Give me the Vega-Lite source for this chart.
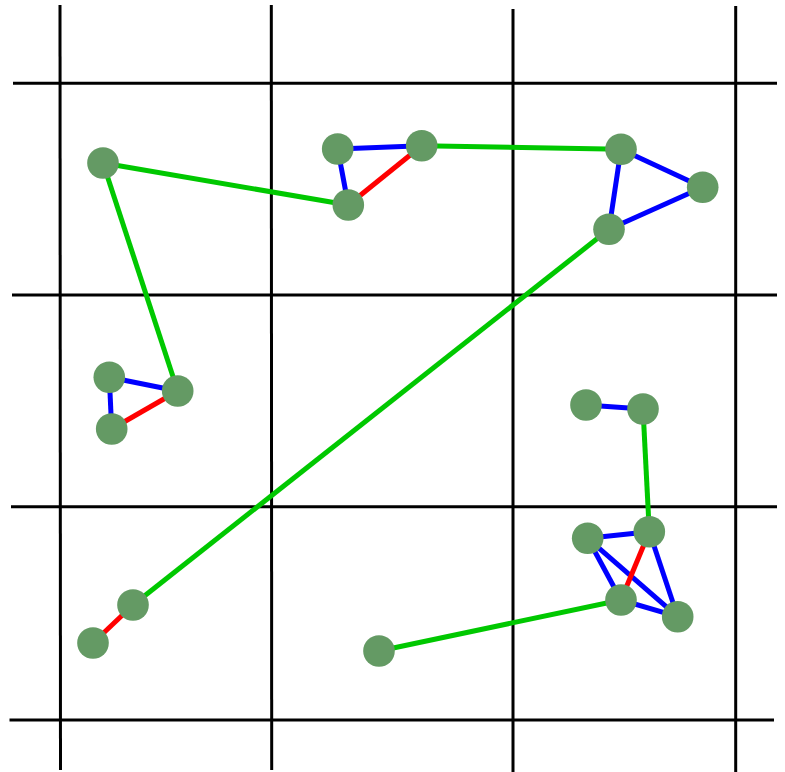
{
  "$schema": "https://vega.github.io/schema/vega-lite/v6.json",
  "width": 785,
  "height": 772,
  "autosize": {"type": "none"},
  "padding": 0,
  "background": "white",
  "config": {"view": {"stroke": null}},
  "datasets": {
    "grid": [
      {"x": 60, "y": 5, "x2": 60.5, "y2": 770},
      {"x": 271.3, "y": 5, "x2": 271.7, "y2": 770},
      {"x": 513, "y": 9, "x2": 513, "y2": 772},
      {"x": 735.7, "y": 6, "x2": 735.7, "y2": 772},
      {"x": 13, "y": 83.3, "x2": 777, "y2": 83.3},
      {"x": 12, "y": 295, "x2": 777, "y2": 295},
      {"x": 11, "y": 506.7, "x2": 777, "y2": 506.7},
      {"x": 9.5, "y": 720, "x2": 774, "y2": 720}
    ],
    "nodes": [
      {"id": "A", "x": 103, "y": 163},
      {"id": "B", "x": 348.3, "y": 205},
      {"id": "C", "x": 337.7, "y": 149},
      {"id": "D", "x": 421.7, "y": 145.7},
      {"id": "E", "x": 621, "y": 149.3},
      {"id": "F", "x": 702.7, "y": 187.3},
      {"id": "G", "x": 609, "y": 229.3},
      {"id": "H", "x": 109.3, "y": 377.3},
      {"id": "I", "x": 177.7, "y": 391},
      {"id": "J", "x": 111.7, "y": 429},
      {"id": "K", "x": 586, "y": 405},
      {"id": "L", "x": 643, "y": 409},
      {"id": "M", "x": 587.7, "y": 538.3},
      {"id": "N", "x": 649.3, "y": 531.7},
      {"id": "O", "x": 621, "y": 600},
      {"id": "P", "x": 677.7, "y": 616.7},
      {"id": "Q", "x": 133, "y": 605},
      {"id": "R", "x": 93, "y": 643},
      {"id": "S", "x": 379, "y": 651}
    ],
    "edges": [
      {"kind": "green", "x": 103, "y": 163, "x2": 348.3, "y2": 205},
      {"kind": "green", "x": 103, "y": 163, "x2": 177.7, "y2": 391},
      {"kind": "green", "x": 421.7, "y": 145.7, "x2": 621, "y2": 149.3},
      {"kind": "green", "x": 609, "y": 229.3, "x2": 133, "y2": 605},
      {"kind": "green", "x": 643, "y": 409, "x2": 649.3, "y2": 531.7},
      {"kind": "green", "x": 379, "y": 651, "x2": 621, "y2": 600},
      {"kind": "blue", "x": 337.7, "y": 149, "x2": 421.7, "y2": 145.7},
      {"kind": "blue", "x": 337.7, "y": 149, "x2": 348.3, "y2": 205},
      {"kind": "blue", "x": 621, "y": 149.3, "x2": 702.7, "y2": 187.3},
      {"kind": "blue", "x": 702.7, "y": 187.3, "x2": 609, "y2": 229.3},
      {"kind": "blue", "x": 621, "y": 149.3, "x2": 609, "y2": 229.3},
      {"kind": "blue", "x": 109.3, "y": 377.3, "x2": 177.7, "y2": 391},
      {"kind": "blue", "x": 109.3, "y": 377.3, "x2": 111.7, "y2": 429},
      {"kind": "blue", "x": 586, "y": 405, "x2": 643, "y2": 409},
      {"kind": "blue", "x": 587.7, "y": 538.3, "x2": 649.3, "y2": 531.7},
      {"kind": "blue", "x": 587.7, "y": 538.3, "x2": 621, "y2": 600},
      {"kind": "blue", "x": 587.7, "y": 538.3, "x2": 677.7, "y2": 616.7},
      {"kind": "blue", "x": 649.3, "y": 531.7, "x2": 677.7, "y2": 616.7},
      {"kind": "blue", "x": 621, "y": 600, "x2": 677.7, "y2": 616.7},
      {"kind": "red", "x": 348.3, "y": 205, "x2": 421.7, "y2": 145.7},
      {"kind": "red", "x": 177.7, "y": 391, "x2": 111.7, "y2": 429},
      {"kind": "red", "x": 133, "y": 605, "x2": 93, "y2": 643},
      {"kind": "red", "x": 649.3, "y": 531.7, "x2": 621, "y2": 600}
    ]
  },
  "layer": [
    {
      "data": {"name": "grid"},
      "mark": {"type": "rule", "color": "black", "strokeWidth": 3},
      "encoding": {
        "x": {"field": "x", "type": "quantitative", "scale": {"domain": [0, 785], "nice": false, "zero": false}, "axis": null},
        "y": {"field": "y", "type": "quantitative", "scale": {"domain": [0, 772], "nice": false, "zero": false, "reverse": true}, "axis": null},
        "x2": {"field": "x2"},
        "y2": {"field": "y2"}
      }
    },
    {
      "data": {"name": "edges"},
      "mark": {"type": "rule", "strokeWidth": 5},
      "encoding": {
        "x": {"field": "x", "type": "quantitative", "scale": {"domain": [0, 785], "nice": false, "zero": false}, "axis": null},
        "y": {"field": "y", "type": "quantitative", "scale": {"domain": [0, 772], "nice": false, "zero": false, "reverse": true}, "axis": null},
        "x2": {"field": "x2"},
        "y2": {"field": "y2"},
        "color": {"field": "kind", "type": "nominal", "scale": {"domain": ["green", "blue", "red"], "range": ["#00c800", "#0000ff", "#ff0000"]}, "legend": null}
      }
    },
    {
      "data": {"name": "nodes"},
      "mark": {"type": "circle", "color": "#649a64", "opacity": 1, "size": 1000},
      "encoding": {
        "x": {"field": "x", "type": "quantitative", "scale": {"domain": [0, 785], "nice": false, "zero": false}, "axis": null},
        "y": {"field": "y", "type": "quantitative", "scale": {"domain": [0, 772], "nice": false, "zero": false, "reverse": true}, "axis": null}
      }
    }
  ]
}
